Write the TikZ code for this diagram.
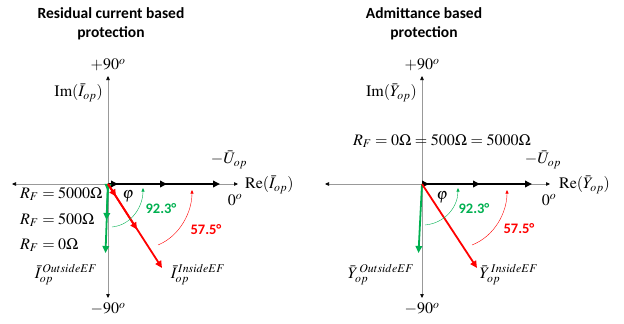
\documentclass[tikz,border=0pt]{standalone}
\usepackage{mathptmx}
\usepackage{fontspec}
\setmainfont{Liberation Serif}
\newfontfamily\calfont{Carlito}
\usetikzlibrary{arrows.meta}
\definecolor{efgreen}{RGB}{0,176,80}
\definecolor{efred}{RGB}{255,0,0}

\tikzset{
  axis/.style={black!40, line width=0.6pt,
    {Triangle[length=4pt,width=3.5pt,black]}-{Triangle[length=4pt,width=3.5pt,black]}},
  vec/.style={line width=1.8pt, -{Triangle[length=7pt,width=6.5pt]}},
  angarc/.style={line width=0.4pt, -{Triangle[length=3.5pt,width=3pt]}},
  lbl/.style={inner sep=1pt, font=\fontsize{16}{19}\selectfont},
  ttl/.style={align=center, font=\calfont\bfseries\fontsize{15.5}{18.5}\selectfont},
  angle/.style={font=\calfont\bfseries\fontsize{14.5}{16}\selectfont}
}

\begin{document}
\begin{tikzpicture}[x=1pt, y=-1pt]
\useasboundingbox (0,0) rectangle (624,324);

% left: residual current based
\node[ttl] (ttlA) at (111,24) {Residual current based\\protection};
\coordinate (OA) at (108,184);
\coordinate (xlA) at (12,184);
\coordinate (xrA) at (238,184);
\coordinate (ytA) at (108,76);
\coordinate (ybA) at (108,298);
\draw[axis] (xlA) -- (xrA);
\draw[axis] (ybA) -- (ytA);

% -U_op for the three faults
\coordinate (uA3) at (220,184);
\coordinate (uA2) at (167,184);
\coordinate (uA1) at (118,184);
\draw[vec] (OA) -- (uA3);
\draw[vec] (OA) -- (uA2);
\draw[vec] (OA) -- (uA1);

% outside EF (green)
\coordinate (gA3) at (105.5,253);
\coordinate (gA2) at (106.5,220);
\coordinate (gA1) at (107.5,191);
\draw[vec, efgreen] (OA) -- (gA3);
\draw[vec, efgreen] (OA) -- (gA2);
\draw[vec, efgreen] (OA) -- (gA1);

% inside EF (red)
\coordinate (rA3) at (162,268);
\coordinate (rA2) at (137,229.5);
\coordinate (rA1) at (116,196.5);
\draw[vec, efred] (OA) -- (rA3);
\draw[vec, efred] (OA) -- (rA2);
\draw[vec, efred] (OA) -- (rA1);

% angle arcs
\coordinate (gaA0) at (112,227);
\coordinate (gaA1) at (143,188);
\coordinate (raA0) at (158,245);
\coordinate (raA1) at (192,190);
\draw[angarc, efgreen] (gaA0) .. controls (132,225) and (143,206) .. (gaA1);
\draw[angarc, efred] (raA0) .. controls (180,236) and (192,212) .. (raA1);

\node[lbl] (p90A) at (108,65) {$+90^o$};
\node[lbl] (m90A) at (108,309) {$-90^o$};
\node[lbl, anchor=east] (imA) at (104,93) {$\mathrm{Im}(\bar{I}_{op})$};
\node[lbl, anchor=west] (reA) at (244,185) {$\mathrm{Re}(\bar{I}_{op})$};
\node[lbl] (zeroA) at (235,200) {$0^o$};
\node[lbl] (uA) at (229,160) {$-\bar{U}_{op}$};
\node[lbl] (phiA) at (128,196) {$\varphi$};
\node[angle, efgreen] (gdegA) at (161,209) {92.3°};
\node[angle, efred] (rdegA) at (206,230) {57.5°};
\node[lbl, anchor=west] (rf1A) at (19,194) {$R_F=5000\Omega$};
\node[lbl, anchor=west] (rf2A) at (19,220) {$R_F=500\Omega$};
\node[lbl, anchor=west] (rf3A) at (19,245) {$R_F=0\Omega$};
\node[lbl] (outA) at (66,275) {$\bar{I}_{op}^{\,OutsideEF}$};
\node[lbl] (inA) at (198,275) {$\bar{I}_{op}^{\,InsideEF}$};

% right: admittance based
\node[ttl] (ttlB) at (424,24) {Admittance based\\protection};
\coordinate (OB) at (422,184);
\coordinate (xlB) at (325,184);
\coordinate (xrB) at (550,184);
\coordinate (ytB) at (422,76);
\coordinate (ybB) at (422,298);
\draw[axis] (xlB) -- (xrB);
\draw[axis] (ybB) -- (ytB);

\coordinate (uB3) at (532,184);
\coordinate (uB2) at (480,184);
\coordinate (uB1) at (429,184);
\draw[vec] (OB) -- (uB3);
\draw[vec] (OB) -- (uB2);
\draw[vec] (OB) -- (uB1);

\coordinate (gB) at (418.5,253);
\coordinate (rB) at (477,268);
\draw[vec, efgreen] (OB) -- (gB);
\draw[vec, efred] (OB) -- (rB);

\coordinate (gaB0) at (425,225);
\coordinate (gaB1) at (458,188);
\coordinate (raB0) at (472,245);
\coordinate (raB1) at (507,190);
\draw[angarc, efgreen] (gaB0) .. controls (446,223) and (458,206) .. (gaB1);
\draw[angarc, efred] (raB0) .. controls (495,236) and (507,212) .. (raB1);

\node[lbl] (p90B) at (422,65) {$+90^o$};
\node[lbl] (m90B) at (422,309) {$-90^o$};
\node[lbl, anchor=east] (imB) at (418,93) {$\mathrm{Im}(\bar{Y}_{op})$};
\node[lbl, anchor=west] (reB) at (558,185) {$\mathrm{Re}(\bar{Y}_{op})$};
\node[lbl] (zeroB) at (549,200) {$0^o$};
\node[lbl] (uB) at (543,160) {$-\bar{U}_{op}$};
\node[lbl] (phiB) at (442,197) {$\varphi$};
\node[lbl] (rfB) at (442,141) {$R_F=0\Omega=500\Omega=5000\Omega$};
\node[angle, efgreen] (gdegB) at (474,209) {92.3°};
\node[angle, efred] (rdegB) at (519,229) {57.5°};
\node[lbl] (outB) at (381,275) {$\bar{Y}_{op}^{\,OutsideEF}$};
\node[lbl] (inB) at (509,275) {$\bar{Y}_{op}^{\,InsideEF}$};
\end{tikzpicture}
\end{document}
